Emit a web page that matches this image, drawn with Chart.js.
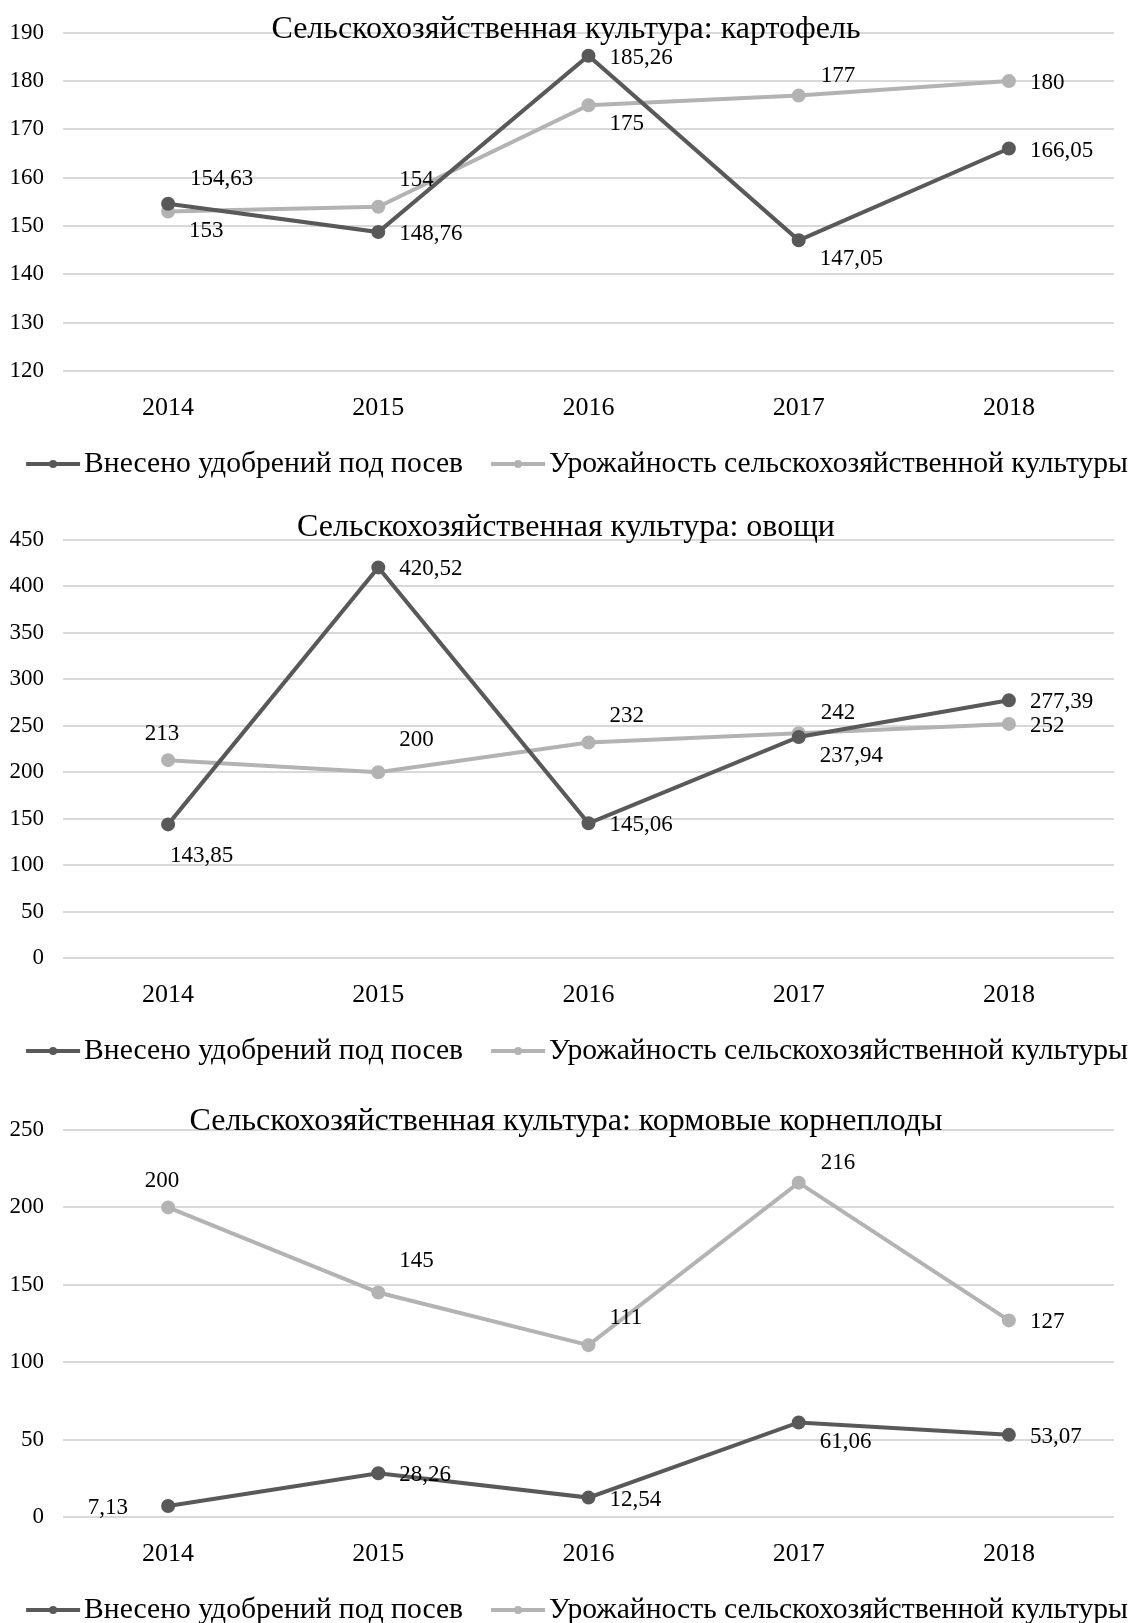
<!DOCTYPE html>
<html>
<head>
<meta charset="utf-8">
<script src="https://cdn.jsdelivr.net/npm/chart.js@4.4.1/dist/chart.umd.min.js"></script>
<style>
	html, body { margin: 0; padding: 0; background: #fff; overflow: hidden; }
	.box { position: relative; width: 1134px; }
</style>
</head>
<body>
<div class="box" style="height:495px"><canvas id="chart1"></canvas></div>
<div class="box" style="height:580px"><canvas id="chart2"></canvas></div>
<div class="box" style="height:560px"><canvas id="chart3"></canvas></div>
<script>
'use strict';

const years = ['2014', '2015', '2016', '2017', '2018'];
const seriesNames = ['Внесено удобрений под посев', 'Урожайность сельскохозяйственной культуры'];

const potatoFertilizer = [154.63, 148.76, 185.26, 147.05, 166.05];
const potatoYield = [153, 154, 175, 177, 180];
const potatoAxis = [120, 190, 10];

const vegFertilizer = [143.85, 420.52, 145.06, 237.94, 277.39];
const vegYield = [213, 200, 232, 242, 252];
const vegAxis = [0, 450, 50];

const rootFertilizer = [7.13, 28.26, 12.54, 61.06, 53.07];
const rootYield = [200, 145, 111, 216, 127];
const rootAxis = [0, 250, 50];

const DARK = '#595959';
const LIGHT = '#b3b3b3';
const FONT = "'Liberation Serif', 'Times New Roman', serif";

// where each value label sits relative to its point
const placements = {
	r: { dx: 21, dy: 2, align: 'left' },
	ar: { dx: 21, dy: -27, align: 'left' },
	arh: { dx: 21, dy: -32, align: 'left' },
	arm: { dx: 22, dy: -25, align: 'left' },
	arl: { dx: 22, dy: -20, align: 'left' },
	br: { dx: 21, dy: 19, align: 'left' },
	a: { dx: -6, dy: -26, align: 'center' },
	b: { dx: 2, dy: 32, align: 'left' },
	l: { dx: -40, dy: 2, align: 'right' },
};

const valueLabels = {
	id: 'valueLabels',
	afterDatasetsDraw(chart, args, opts) {
		const ctx = chart.ctx;
		ctx.save();
		ctx.font = '23px ' + FONT;
		ctx.fillStyle = '#000';
		ctx.textBaseline = 'middle';
		chart.data.datasets.forEach((dataset, i) => {
			const meta = chart.getDatasetMeta(i);
			meta.data.forEach((point, j) => {
				const p = placements[opts.where[i][j]];
				ctx.textAlign = p.align;
				const text = String(dataset.data[j]).replace('.', ',');
				ctx.fillText(text, point.x + p.dx, point.y + p.dy);
			});
		});
		ctx.restore();
	},
};

const overlayTitle = {
	id: 'overlayTitle',
	afterDraw(chart, args, opts) {
		const ctx = chart.ctx;
		ctx.save();
		ctx.font = '32px ' + FONT;
		ctx.fillStyle = '#000';
		ctx.textAlign = 'center';
		ctx.textBaseline = 'middle';
		ctx.fillText(opts.text, 566, opts.y);
		ctx.restore();
	},
};

// Excel-like legend: short line with a dot, then the series name
const lineLegend = {
	id: 'lineLegend',
	afterDraw(chart, args, opts) {
		const ctx = chart.ctx;
		const datasets = chart.data.datasets;
		const sample = 54;
		const gapText = 4;
		const gapItems = 28;
		ctx.save();
		ctx.font = opts.fontSize + 'px ' + FONT;
		const widths = datasets.map((ds) => sample + gapText + ctx.measureText(ds.label).width);
		const total = widths.reduce((a, b) => a + b, 0) + gapItems * (datasets.length - 1);
		let x = opts.centerX - total / 2;
		const y = chart.chartArea.bottom + opts.offset;
		datasets.forEach((ds, i) => {
			ctx.strokeStyle = ds.borderColor;
			ctx.fillStyle = ds.borderColor;
			ctx.lineWidth = 4;
			ctx.beginPath();
			ctx.moveTo(x, y);
			ctx.lineTo(x + sample, y);
			ctx.stroke();
			ctx.beginPath();
			ctx.arc(x + sample / 2, y, 4, 0, Math.PI * 2);
			ctx.fill();
			ctx.fillStyle = '#000';
			ctx.textAlign = 'left';
			ctx.textBaseline = 'middle';
			ctx.fillText(ds.label, x + sample + gapText, y);
			x += widths[i] + gapItems;
		});
		ctx.restore();
	},
};

function makeDataset(label, data, color) {
	return {
		label,
		data,
		borderColor: color,
		backgroundColor: color,
		pointBackgroundColor: color,
		pointBorderColor: color,
		borderWidth: 4,
		pointRadius: 5,
		pointHoverRadius: 5,
		tension: 0,
	};
}

function makeChart({ id, title, titleY, fertilizer, yieldValues, axis, areaTop, padBottom, where }) {
	const ctx = document.getElementById(id).getContext('2d');
	return new Chart(ctx, {
		type: 'line',
		data: {
			labels: years,
			datasets: [
				makeDataset(seriesNames[0], fertilizer, DARK),
				makeDataset(seriesNames[1], yieldValues, LIGHT),
			],
		},
		options: {
			responsive: true,
			maintainAspectRatio: false,
			animation: false,
			events: [],
			layout: { padding: { top: areaTop, left: 0, right: 20, bottom: padBottom } },
			scales: {
				x: {
					offset: true,
					grid: { display: false },
					border: { display: false },
					ticks: { color: '#000', font: { family: FONT, size: 26 }, padding: 14, maxRotation: 0 },
					afterFit(scale) { scale.height = 64; },
				},
				y: {
					min: axis[0],
					max: axis[1],
					grid: { color: '#d9d9d9', lineWidth: 2, drawTicks: false },
					border: { display: false },
					ticks: { stepSize: axis[2], color: '#000', font: { family: FONT, size: 23 }, padding: 19 },
					afterFit(scale) { scale.width = 63; },
				},
			},
			plugins: {
				legend: { display: false },
				tooltip: { enabled: false },
				overlayTitle: { text: title, y: titleY },
				valueLabels: { where },
				lineLegend: { fontSize: 29.6, centerX: 577, offset: 93 },
			},
		},
		plugins: [valueLabels, overlayTitle, lineLegend],
	});
}

makeChart({
	id: 'chart1',
	title: 'Сельскохозяйственная культура: картофель',
	titleY: 30,
	fertilizer: potatoFertilizer,
	yieldValues: potatoYield,
	axis: potatoAxis,
	areaTop: 32,
	padBottom: 60,
	where: [['arm', 'r', 'r', 'br', 'r'], ['br', 'ar', 'br', 'arl', 'r']],
});

makeChart({
	id: 'chart2',
	title: 'Сельскохозяйственная культура: овощи',
	titleY: 33,
	fertilizer: vegFertilizer,
	yieldValues: vegYield,
	axis: vegAxis,
	areaTop: 45,
	padBottom: 53,
	where: [['b', 'r', 'r', 'br', 'r'], ['a', 'arh', 'ar', 'arl', 'r']],
});

makeChart({
	id: 'chart3',
	title: 'Сельскохозяйственная культура: кормовые корнеплоды',
	titleY: 47,
	fertilizer: rootFertilizer,
	yieldValues: rootYield,
	axis: rootAxis,
	areaTop: 55,
	padBottom: 54,
	where: [['l', 'r', 'r', 'br', 'r'], ['a', 'arh', 'ar', 'arl', 'r']],
});
</script>
</body>
</html>
